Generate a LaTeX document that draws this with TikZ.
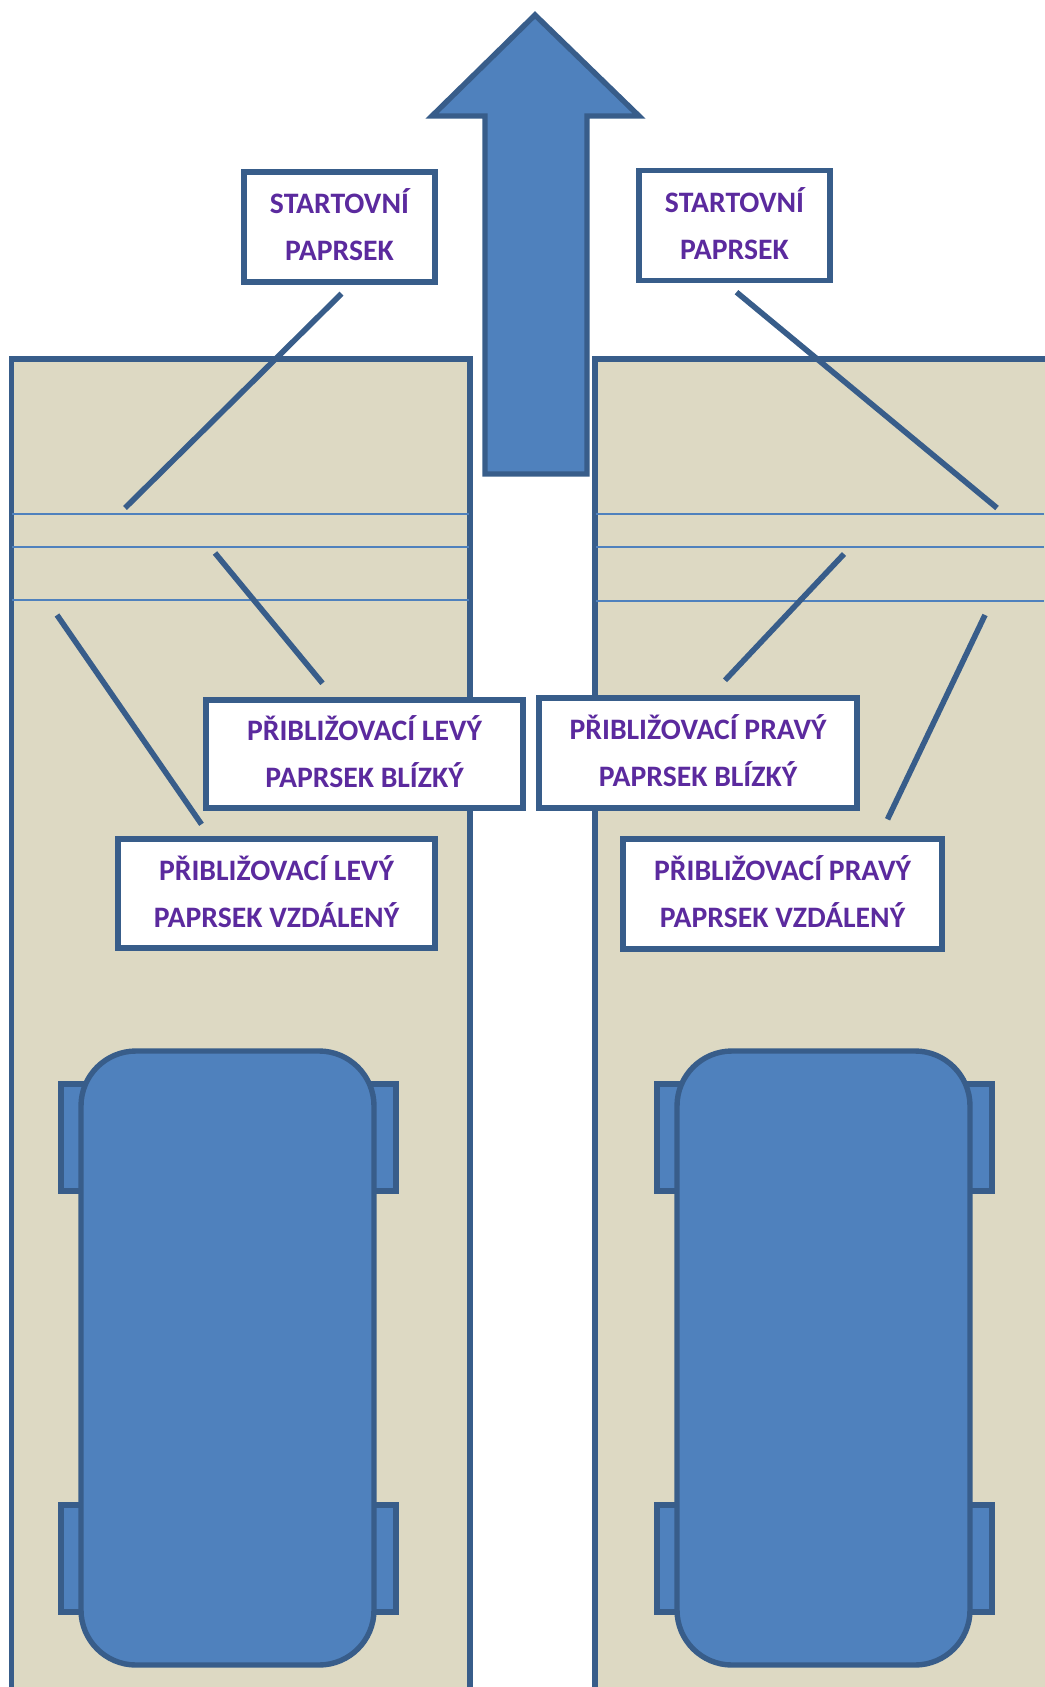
\documentclass[tikz,border=0pt]{standalone}
\usepackage{fontspec}
\setmainfont{Carlito}
\usetikzlibrary{calc}
\definecolor{shapeblue}{HTML}{4F81BD}
\definecolor{edgeblue}{HTML}{385D8A}
\definecolor{roadtan}{HTML}{DDD9C3}
\definecolor{labelpurple}{HTML}{5B2A9E}
\begin{document}
\begin{tikzpicture}

        % Setup the styles
        \tikzset{solid shape/.style={draw=edgeblue,
                                     line width=0.054cm,
                                     fill=shapeblue},
                 road/.style={draw=edgeblue,
                              line width=0.054cm,
                              fill=roadtan},
                 stop line/.style={draw=shapeblue,
                                   line width=0.012cm},
                 beam/.style={draw=edgeblue,
                              line width=0.056cm},
                 beam label/.style={draw=edgeblue,
                                    line width=0.054cm,
                                    fill=white,
                                    align=center,
                                    inner sep=0pt,
                                    text=labelpurple,
                                    execute at end node={\rule[-0.045cm]{0pt}{0pt}},
                                    font=\fontsize{8.45}{13.3}\selectfont\bfseries}}

        \useasboundingbox (0, 0) rectangle (10.44, -16.87);

        % Draw the two lanes
        \draw[road] (0.115, -3.59) rectangle (4.70, -17.2);
        \draw[road] (5.95, -3.59) rectangle (10.7, -17.2);

        % Draw the beam lines across the lanes
        \foreach \ya/\yb in {5.14/5.14, 5.47/5.47, 6.00/6.01} {
            \draw[stop line] (0.12, -\ya) -- (4.69, -\ya);
            \draw[stop line] (5.96, -\yb) -- (10.44, -\yb);
        }

        % Draw the direction arrow
        \draw[solid shape] (5.35, -0.15) -- (6.39, -1.16) -- (5.87, -1.16)
            -- (5.87, -4.74) -- (4.85, -4.74) -- (4.85, -1.16) -- (4.32, -1.16)
            -- cycle;

        % Draw the cars
        \foreach \x in {0, 5.96} {
            \foreach \y in {10.84, 15.05} {
                \draw[solid shape] (0.61+\x, -\y) rectangle (3.96+\x, -\y-1.07);
            }
            \draw[solid shape, rounded corners=0.55cm] (0.81+\x, -10.51) rectangle (3.74+\x, -16.65);
        }

        % Draw the labels
        \node[beam label, minimum width=1.91cm, minimum height=1.10cm] at (3.395, -2.27) (startl)
            {STARTOVNÍ\\PAPRSEK};
        \node[beam label, minimum width=1.91cm, minimum height=1.10cm] at (7.345, -2.255) (startr)
            {STARTOVNÍ\\PAPRSEK};
        \node[beam label, minimum width=3.17cm, minimum height=1.08cm] at (3.645, -7.54) (nearl)
            {PŘIBLIŽOVACÍ LEVÝ\\PAPRSEK BLÍZKÝ};
        \node[beam label, minimum width=3.18cm, minimum height=1.10cm] at (6.98, -7.53) (nearr)
            {PŘIBLIŽOVACÍ PRAVÝ\\PAPRSEK BLÍZKÝ};
        \node[beam label, minimum width=3.17cm, minimum height=1.09cm] at (2.765, -8.935) (farl)
            {PŘIBLIŽOVACÍ LEVÝ\\PAPRSEK VZDÁLENÝ};
        \node[beam label, minimum width=3.19cm, minimum height=1.10cm] at (7.825, -8.94) (farr)
            {PŘIBLIŽOVACÍ PRAVÝ\\PAPRSEK VZDÁLENÝ};

        % Free ends of the beams
        \coordinate (startl end) at (1.25, -5.08);
        \coordinate (startr end) at (9.97, -5.08);
        \coordinate (nearl end) at (2.15, -5.53);
        \coordinate (nearr end) at (8.44, -5.54);
        \coordinate (farl end) at (0.57, -6.15);
        \coordinate (farr end) at (9.85, -6.15);

        % Connect the labels with the beams
        \draw[beam] ($(startl.south)+(0.02, -0.09)$) -- (startl end);
        \draw[beam] ($(startr.south)+(0.02, -0.09)$) -- (startr end);
        \draw[beam] ($(nearl.north)+(-0.42, 0.14)$) -- (nearl end);
        \draw[beam] ($(nearr.north)+(0.27, 0.15)$) -- (nearr end);
        \draw[beam] ($(farl.north)+(-0.75, 0.12)$) -- (farl end);
        \draw[beam] ($(farr.north)+(1.05, 0.17)$) -- (farr end);
\end{tikzpicture}
\end{document}
